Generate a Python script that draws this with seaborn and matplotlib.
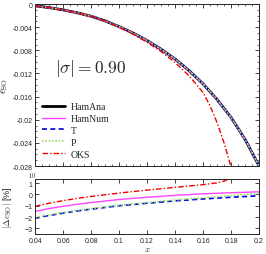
import matplotlib
matplotlib.use("Agg")
import matplotlib.pyplot as plt
import seaborn as sns
from matplotlib.ticker import MultipleLocator, FormatStrFormatter

# top panel: spin-orbit energy e_SO vs x
x_top = [0.04, 0.05, 0.06, 0.07, 0.08, 0.09, 0.10, 0.11, 0.12, 0.13,
         0.14, 0.15, 0.16, 0.17, 0.18, 0.19, 0.20]
e_ham = [-0.0003, -0.0006, -0.0010, -0.0015, -0.0021, -0.0029, -0.0039, -0.0050, -0.0063,
         -0.0078, -0.0095, -0.0115, -0.0138, -0.0165, -0.0196, -0.0234, -0.0280]
x_oks = [0.04, 0.05, 0.06, 0.07, 0.08, 0.09, 0.10, 0.11, 0.12, 0.13,
         0.14, 0.15, 0.16, 0.165, 0.17, 0.175, 0.18, 0.185]
e_oks = [-0.0003, -0.0006, -0.0010, -0.0015, -0.0021, -0.0029, -0.0040, -0.0052, -0.0066,
         -0.0082, -0.0101, -0.0124, -0.0153, -0.0176, -0.0205, -0.0240, -0.0282, -0.0330]

# bottom panel: relative difference (log scale exponent)
x_bot = [0.04, 0.05, 0.06, 0.07, 0.08, 0.10, 0.12, 0.14, 0.16, 0.18, 0.20]
d_num = [-1.50, -1.25, -1.05, -0.87, -0.72, -0.45, -0.25, -0.08, 0.05, 0.15, 0.23]
d_t = [-2.10, -1.86, -1.65, -1.46, -1.30, -1.00, -0.78, -0.57, -0.40, -0.25, -0.12]
d_p = [-2.05, -1.80, -1.60, -1.41, -1.25, -0.95, -0.72, -0.50, -0.30, -0.10, 0.08]
x_bot_oks = [0.04, 0.05, 0.06, 0.07, 0.08, 0.10, 0.12, 0.14, 0.16, 0.17, 0.175, 0.18]
d_oks = [-1.05, -0.78, -0.55, -0.35, -0.18, 0.12, 0.38, 0.62, 0.86, 1.02, 1.17, 1.45]

sns.set_style("ticks")
plt.rcParams["mathtext.fontset"] = "cm"
plt.rcParams["font.family"] = ["Liberation Sans", "DejaVu Sans"]

fig = plt.figure(figsize=(2.66, 2.55), dpi=100)
ax1 = fig.add_axes([0.132, 0.345, 0.842, 0.635])
ax2 = fig.add_axes([0.132, 0.078, 0.842, 0.218])

dash_t = (0, (3, 2))
dot_p = (0, (1, 1))
dashdot = (0, (4, 1.5, 1, 1.5))

sns.lineplot(x=x_top, y=e_ham, ax=ax1, color="black", lw=2.0, label="HamAna")
sns.lineplot(x=x_top, y=e_ham, ax=ax1, color="#ff44ff", lw=1.0, label="HamNum")
sns.lineplot(x=x_top, y=e_ham, ax=ax1, color="#0000dd", lw=1.2, ls=dash_t, label="T")
sns.lineplot(x=x_top, y=e_ham, ax=ax1, color="#99dd66", lw=1.2, ls=dot_p, label="P")
sns.lineplot(x=x_oks, y=e_oks, ax=ax1, color="#ee0000", lw=1.0, ls=dashdot, label="OKS")

ax1.set_xlim(0.04, 0.2)
ax1.set_ylim(-0.028, 0.0)
ax1.yaxis.set_major_locator(MultipleLocator(0.004))
ax1.yaxis.set_minor_locator(MultipleLocator(0.001))
ax1.xaxis.set_major_locator(MultipleLocator(0.02))
ax1.xaxis.set_minor_locator(MultipleLocator(0.005))
ax1.yaxis.set_major_formatter(FormatStrFormatter("%g"))
ax1.set_xticklabels([])
ax1.set_xlabel("")
ax1.set_ylabel(r"$e_{\rm SO}$", fontsize=7.5)
ax1.yaxis.set_label_coords(-0.11, 0.5)
ax1.text(0.054, -0.0118, r"$|\sigma| = 0.90$", fontsize=12.5)
ax1.legend(loc="lower left", frameon=False, handlelength=2.3,
           labelspacing=0.3, borderaxespad=0.35, handletextpad=0.6,
           prop={"family": "Liberation Serif", "size": 7})

sns.lineplot(x=x_bot, y=d_num, ax=ax2, color="#ff44ff", lw=1.0)
sns.lineplot(x=x_bot, y=d_t, ax=ax2, color="#0000dd", lw=1.2, ls=dash_t)
sns.lineplot(x=x_bot, y=d_p, ax=ax2, color="#99dd66", lw=1.2, ls=dot_p)
sns.lineplot(x=x_bot_oks, y=d_oks, ax=ax2, color="#ee0000", lw=1.0, ls=dashdot)

ax2.set_xlim(0.04, 0.2)
ax2.set_ylim(-3.5, 1.4)
ax2.yaxis.set_major_locator(MultipleLocator(1))
ax2.xaxis.set_major_locator(MultipleLocator(0.02))
ax2.xaxis.set_major_formatter(FormatStrFormatter("%g"))
ax2.set_xlabel(r"$x$", fontsize=6.5)
ax2.xaxis.set_label_coords(0.5, -0.175)
ax2.set_ylabel(r"$|\Delta e_{\rm SO}|$ [%]", fontsize=6.5)
ax2.yaxis.set_label_coords(-0.095, 0.5)
ax2.text(-0.03, 1.03, r"$10^{\cdot}$", fontsize=4.5, transform=ax2.transAxes)

for ax in (ax1, ax2):
    ax.tick_params(which="both", direction="in", top=True, right=True, labelsize=5, pad=2)
    ax.tick_params(which="major", length=3, width=0.6)
    ax.tick_params(which="minor", length=1.5, width=0.5)
    for s in ax.spines.values():
        s.set_linewidth(0.7)

fig.savefig("out.png", dpi=100)
